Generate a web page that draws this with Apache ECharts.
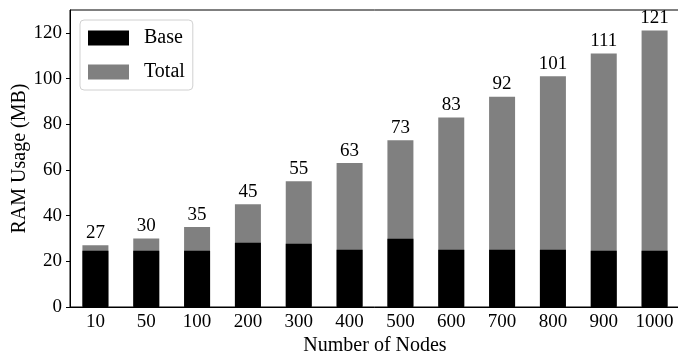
<!DOCTYPE html>
<html>
<head>
<meta charset="utf-8">
<script src="https://cdn.jsdelivr.net/npm/echarts@6/dist/echarts.min.js"></script>
<style>
  html, body { margin: 0; padding: 0; background: #fff; }
  #chart { width: 678px; height: 354px; }
</style>
</head>
<body>
<div id="chart"></div>
<script>
// Node counts on the x axis
const nodeCounts = ['10', '50', '100', '200', '300', '400', '500', '600', '700', '800', '900', '1000'];
// Baseline memory (MB) per run
const baseMB = [24.6, 24.6, 24.6, 28.1, 27.7, 25.1, 29.9, 25.1, 25.1, 25.1, 24.6, 24.6];
// Total memory (MB) per run
const totalMB = [27, 30, 35, 45, 55, 63, 73, 83, 92, 101, 111, 121];
// Y axis ticks
const yTicks = [0, 20, 40, 60, 80, 100, 120];

const FONT = '"Liberation Serif", "DejaVu Serif", serif';

const chart = echarts.init(document.getElementById('chart'), null, { renderer: 'canvas' });
chart.setOption({
  animation: false,
  grid: {
    left: 70, top: 10, width: 610, height: 297,
    outerBoundsMode: 'none',
    containLabel: false,
    show: true, borderColor: '#000', borderWidth: 1, backgroundColor: 'transparent'
  },
  legend: {
    orient: 'vertical',
    left: 80, top: 20,
    data: ['Base', 'Total'],
    itemWidth: 41, itemHeight: 15, itemGap: 14,
    padding: [8, 8, 8, 8],
    borderColor: '#d0d0d0', borderWidth: 1, borderRadius: 4,
    icon: 'rect',
    textStyle: { fontFamily: FONT, fontSize: 20, color: '#000', padding: [0, 0, 0, 10] }
  },
  xAxis: {
    type: 'category',
    data: nodeCounts,
    name: 'Number of Nodes',
    nameLocation: 'middle',
    nameGap: 29,
    nameMoveOverlap: false,
    nameTextStyle: { fontFamily: FONT, fontSize: 20, color: '#000' },
    axisLine: { lineStyle: { color: '#000', width: 1 } },
    axisTick: { show: false },
    axisLabel: { fontFamily: FONT, fontSize: 19, color: '#000', margin: 6 }
  },
  yAxis: {
    type: 'value',
    min: 0, max: 130, interval: 20,
    name: 'RAM Usage (MB)',
    nameLocation: 'middle',
    nameGap: 40,
    nameMoveOverlap: false,
    nameTextStyle: { fontFamily: FONT, fontSize: 20, color: '#000' },
    splitLine: { show: false },
    axisLine: { show: true, lineStyle: { color: '#000', width: 1 } },
    axisTick: { show: true, length: 4, lineStyle: { color: '#000' }, customValues: yTicks },
    axisLabel: { fontFamily: FONT, fontSize: 19, color: '#000', margin: 8, customValues: yTicks }
  },
  series: [
    {
      name: 'Total',
      type: 'bar',
      data: totalMB,
      barWidth: 26,
      barGap: '-100%',
      itemStyle: { color: '#808080' },
      label: {
        show: true, position: 'top', distance: 3,
        fontFamily: FONT, fontSize: 19, color: '#000'
      }
    },
    {
      name: 'Base',
      type: 'bar',
      data: baseMB,
      barWidth: 26,
      barGap: '-100%',
      itemStyle: { color: '#000' }
    }
  ]
});
</script>
</body>
</html>
